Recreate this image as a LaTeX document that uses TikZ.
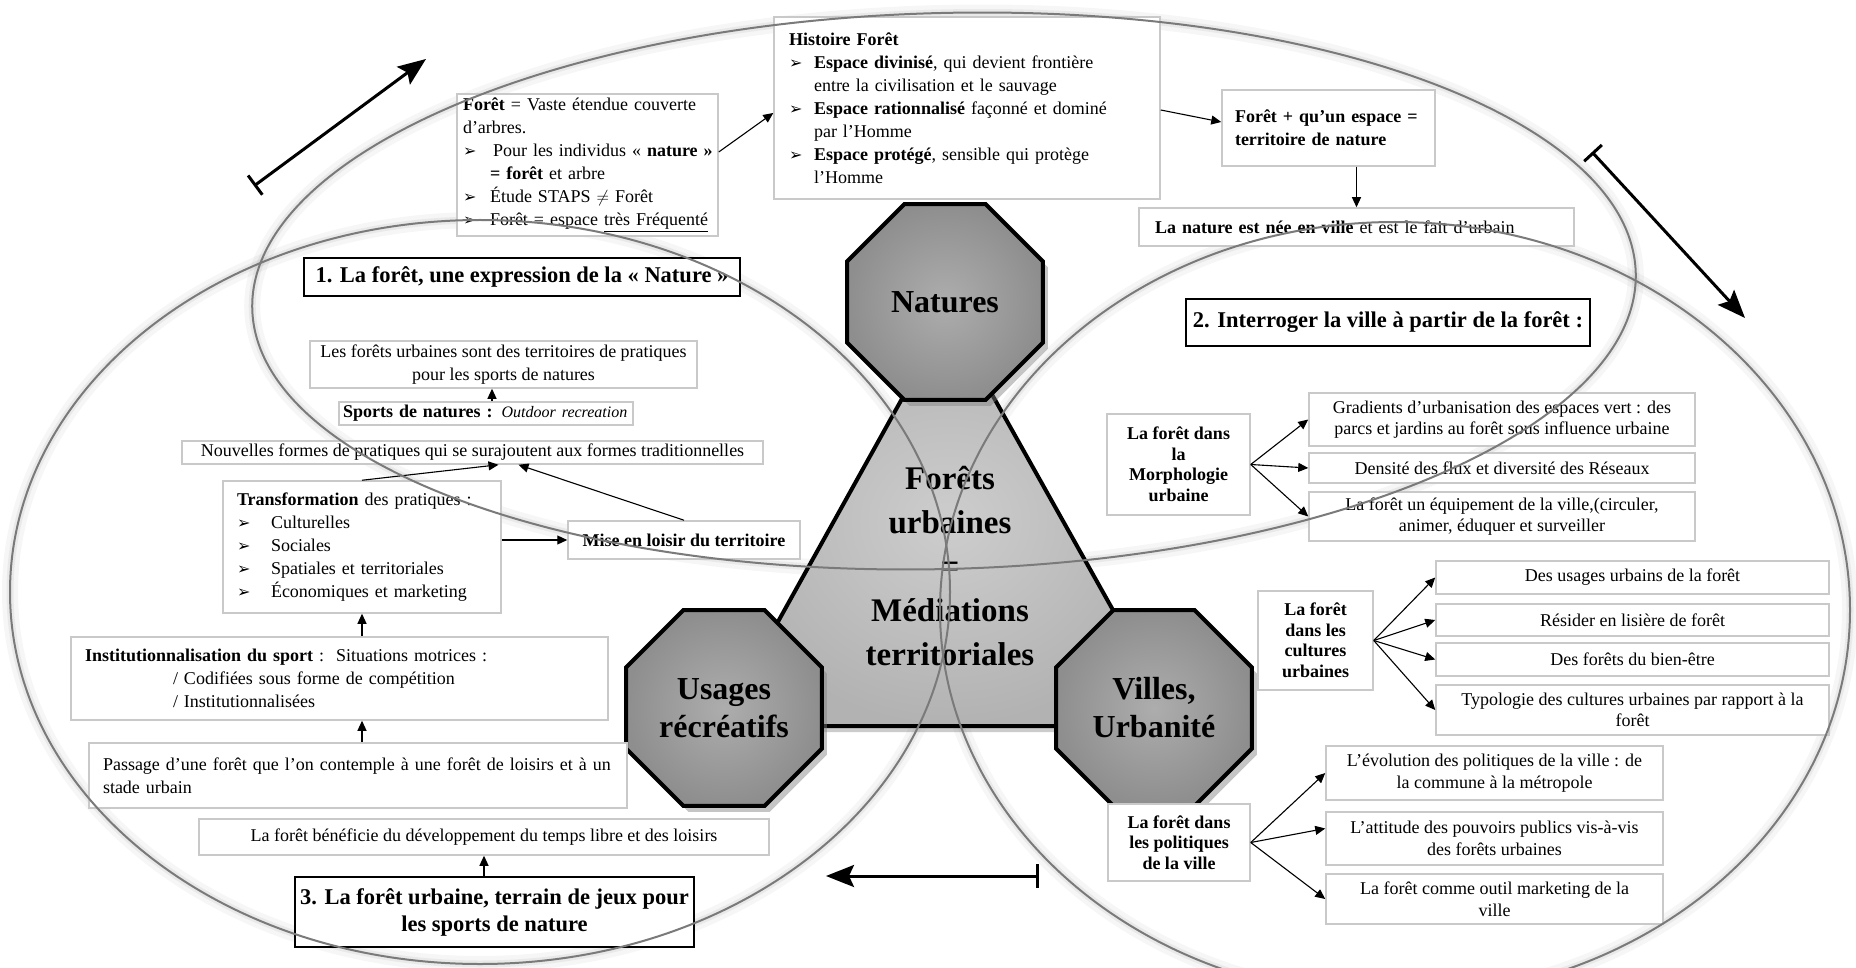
\documentclass[tikz,border=0pt]{standalone}
\usepackage{fontspec}
\setmainfont{Liberation Serif}
\newfontfamily\dejavu{DejaVu Sans}
\usetikzlibrary{arrows.meta,shapes.geometric,shadows,calc}
\definecolor{boxline}{HTML}{C9C9C9}
\definecolor{ellline}{HTML}{7A7A7A}
\definecolor{octin}{HTML}{ADADAD}
\definecolor{octout}{HTML}{8E8E8E}
\definecolor{triin}{HTML}{CDCDCD}
\definecolor{triout}{HTML}{B2B2B2}
\newcommand\fbody{\fontsize{18}{23}\selectfont}
\newcommand\fright{\fontsize{18}{21.5}\selectfont}
\newcommand\fsmallbold{\bfseries\fontsize{18}{20.5}\selectfont}
\newcommand\fsec{\bfseries\fontsize{22.5}{27}\selectfont}
\newcommand\foct{\bfseries\fontsize{32}{38}\selectfont}
\newcommand\fcent{\bfseries\fontsize{33}{44}\selectfont}
\newcommand\bul{{\dejavu\fontsize{16}{16}\selectfont ➢}}
\newcommand\bl[1]{\makebox[#1][l]{\bul}}
\tikzset{
  bx/.style={draw=boxline, line width=1.5pt, fill=white, inner ysep=0pt, font=\fbody},
  rbx/.style={bx, font=\fright, align=center, inner xsep=0pt},
  sec/.style={draw=black, line width=2.5pt, fill=white, inner sep=0pt, font=\fsec, align=center},
  hd/.style={bx, font=\fsmallbold, align=center, inner xsep=0pt},
  arr/.style={line width=1.1pt, -{Triangle[length=10pt,width=9pt]}},
  bigarr/.style={line width=3pt, {Bar[width=24pt,line width=3pt]}-{Stealth[length=28pt,width=22pt,inset=5pt]}},
  oct/.style={regular polygon, regular polygon sides=8, minimum size=212pt, inner sep=0pt,
    draw=black, line width=4pt, inner color=octin, outer color=octout, font=\foct, align=center,
    drop shadow={shadow xshift=5pt, shadow yshift=-6pt, opacity=0.45}},
  ell/.style={draw=ellline, line width=2pt},
  halo/.style={draw=black, line width=16pt, draw opacity=0.035},
  halob/.style={draw=black, line width=7pt, draw opacity=0.05},
}
\begin{document}
\begin{tikzpicture}[x=1pt,y=-1pt]
\useasboundingbox (0,0) rectangle (1856,968);
\fill[white] (0,0) rectangle (1856,968);

% ellipse halos
\foreach \st in {halo,halob}{
  \draw[\st, rotate around={1.5:(944,291)}] (944,291) ellipse [x radius=692, y radius=278];
  \draw[\st] (480,592) ellipse [x radius=470, y radius=372];
  \draw[\st] (1395,610) ellipse [x radius=455, y radius=388];
}

% central triangle
\coordinate (t1) at (948,316);
\coordinate (t2) at (720,726);
\coordinate (t3) at (1178,726);
\path[draw=black, line width=4pt, line join=miter, inner color=triin, outer color=triout,
  drop shadow={shadow xshift=5pt, shadow yshift=-6pt, opacity=0.4}] (t1) -- (t2) -- (t3) -- cycle;

% octagons
\node[oct] (natures) at (945,302) {Natures};
\node[oct] (usages) at (724,708) {Usages\\récréatifs};
\node[oct] (villes) at (1154,708) {Villes,\\Urbanité};

\node[font=\fcent, align=center] (centre) at (950,566) {Forêts\\urbaines\\=\\Médiations\\territoriales};

% top boxes
\node[bx, text width=249pt, inner xsep=6pt, minimum height=142pt, align=left] (foret) at (587.5,165)
 {\mbox{\textbf{Forêt} = Vaste étendue couverte}\\
  d’arbres.\\
  \mbox{\bl{27pt}\,Pour les individus « \textbf{nature »}}\\
  \hspace*{27pt}\textbf{= forêt} et arbre\\
  \bl{27pt}Étude STAPS $\neq$ Forêt\\
  \mbox{\bl{27pt}Forêt = espace \underline{très Fréquenté}}};

\node[bx, text width=356pt, inner xsep=15pt, minimum height=182pt, align=left] (hist) at (967,108)
 {\textbf{Histoire Forêt}\\
  \bl{25pt}\textbf{Espace divinisé}, qui devient frontière\\
  \hspace*{25pt}entre la civilisation et le sauvage\\
  \bl{25pt}\textbf{Espace rationnalisé} façonné et dominé\\
  \hspace*{25pt}par l’Homme\\
  \bl{25pt}\textbf{Espace protégé}, sensible qui protège\\
  \hspace*{25pt}l’Homme};

\node[bx, font=\fbody\bfseries, text width=187pt, inner xsep=13pt, minimum height=76pt, align=left] (plus) at (1328.5,128)
 {Forêt + qu’un espace =\\territoire de nature};

\node[bx, text width=403pt, inner xsep=16pt, minimum height=38pt, align=left] (nee) at (1356.5,227)
 {\textbf{La nature est née en ville} et est le fait d’urbain};

% section boxes
\node[sec, minimum width=436pt, minimum height=38pt] (s1) at (522,277) {1. La forêt, une expression de la « Nature »};
\node[sec, minimum width=404pt, minimum height=47pt] (s2) at (1388,322.5) {2. Interroger la ville à partir de la forêt :};
\node[sec, minimum width=399pt, minimum height=70pt] (s3) at (494.5,912) {3. La forêt urbaine, terrain de jeux pour\\les sports de nature};

% left column
\node[bx, align=center, inner xsep=0pt, minimum width=387pt, minimum height=47pt] (lesforets) at (503.5,364.5)
 {Les forêts urbaines sont des territoires de pratiques\\pour les sports de natures};
\node[bx, text width=286pt, inner xsep=4pt, minimum height=23pt, align=left] (sports) at (486,413.5)
 {\mbox{\textbf{Sports de natures :} {\fontsize{16}{20}\selectfont\itshape Outdoor recreation}}};
\node[bx, align=center, inner xsep=0pt, minimum width=581pt, minimum height=23pt] (nouv) at (472.5,452.5)
 {Nouvelles formes de pratiques qui se surajoutent aux formes traditionnelles};
\node[bx, text width=250pt, inner xsep=14pt, minimum height=132pt, align=left] (transf) at (362,547)
 {\textbf{Transformation} des pratiques :\\
  \bl{34pt}Culturelles\\
  \bl{34pt}Sociales\\
  \bl{34pt}Spatiales et territoriales\\
  \bl{34pt}Économiques et marketing};
\node[bx, font=\fbody\bfseries, align=center, inner xsep=0pt, minimum width=232pt, minimum height=38pt] (mise) at (684,540)
 {Mise en loisir du territoire};
\node[bx, text width=509pt, inner xsep=14pt, minimum height=83pt, align=left] (inst) at (339.5,678.5)
 {\textbf{Institutionnalisation du sport} :\ \ Situations motrices :\\
  \hspace*{88pt}/ Codifiées sous forme de compétition\\
  \hspace*{88pt}/ Institutionnalisées};
\node[bx, text width=510pt, inner xsep=14pt, minimum height=65pt, align=left] (pass) at (358,775.5)
 {\mbox{Passage d’une forêt que l’on contemple à une forêt de loisirs et à un}\\stade urbain};
\node[bx, align=center, inner xsep=0pt, minimum width=570pt, minimum height=36pt] (benef) at (484,837)
 {La forêt bénéficie du développement du temps libre et des loisirs};

% right column
\node[hd, minimum width=143pt, minimum height=101pt] (morph) at (1178.5,464.5) {La forêt dans\\la\\Morphologie\\urbaine};
\node[rbx, minimum width=386pt, minimum height=53pt] (grad) at (1502,419.5) {Gradients d’urbanisation des espaces vert : des\\parcs et jardins au forêt sous influence urbaine};
\node[rbx, minimum width=386pt, minimum height=30pt] (dens) at (1502,468) {Densité des flux et diversité des Réseaux};
\node[rbx, minimum width=386pt, minimum height=49pt] (equip) at (1502,516.5) {La forêt un équipement de la ville,(circuler,\\animer, éduquer et surveiller};

\node[hd, minimum width=115pt, minimum height=99pt] (cult) at (1315.5,640.5) {La forêt\\dans les\\cultures\\urbaines};
\node[rbx, minimum width=393pt, minimum height=33pt] (usag) at (1632.5,577.5) {Des usages urbains de la forêt};
\node[rbx, minimum width=393pt, minimum height=32pt] (resid) at (1632.5,620) {Résider en lisière de forêt};
\node[rbx, minimum width=393pt, minimum height=33pt] (bien) at (1632.5,659.5) {Des forêts du bien-être};
\node[rbx, minimum width=393pt, minimum height=50pt] (typo) at (1632.5,710) {Typologie des cultures urbaines par rapport à la\\forêt};

\node[hd, minimum width=142pt, minimum height=77pt] (polit) at (1179,842.5) {La forêt dans\\les politiques\\de la ville};
\node[rbx, minimum width=337pt, minimum height=54pt] (evol) at (1494.5,773) {L’évolution des politiques de la ville : de\\la commune à la métropole};
\node[rbx, minimum width=337pt, minimum height=53pt] (attit) at (1494.5,838.5) {L’attitude des pouvoirs publics vis-à-vis\\des forêts urbaines};
\node[rbx, minimum width=337pt, minimum height=50pt] (outil) at (1494.5,899) {La forêt comme outil marketing de la\\ville};

% connectors
\draw[arr] ([yshift=13pt]foret.east) -- ([yshift=-5pt]hist.west);
\draw[arr] ([yshift=-2pt]hist.east) -- ([yshift=6pt]plus.west);
\coordinate (pa) at ([xshift=28pt]plus.south);
\draw[arr] (pa) -- (pa |- nee.north);
\coordinate (sa) at ([xshift=6pt]sports.north);
\draw[arr] (sa) -- (sa |- lesforets.south);
\draw[arr] (transf.north) -- ($(nouv.south)+(26,0)$);
\draw[arr] (mise.north) -- ($(nouv.south)+(46,0)$);
\draw[arr] (transf.east |- mise.west) -- (mise.west);
\draw[arr] (inst.north -| transf.south) -- (transf.south);
\draw[arr] (pass.north -| transf.south) -- (inst.south -| transf.south);
\draw[arr] (s3.north -| benef.south) -- (benef.south);

\foreach \t in {grad,dens,equip} \draw[arr] (morph.east) -- (\t.west);
\foreach \t in {usag,resid,bien,typo} \draw[arr] (cult.east) -- (\t.west);
\draw[arr] (polit.east) -- (evol.west);
\draw[arr] (polit.east) -- ([yshift=10pt]attit.west);
\draw[arr] (polit.east) -- (outil.west);

% ellipses
\draw[ell, rotate around={1.5:(944,291)}] (944,291) ellipse [x radius=692, y radius=278];
\draw[ell] (480,592) ellipse [x radius=470, y radius=372];
\draw[ell] (1395,610) ellipse [x radius=455, y radius=388];

% big arrows
\coordinate (a1s) at (254,186); \coordinate (a1e) at (426,59);
\coordinate (a2s) at (1592,152); \coordinate (a2e) at (1745,318);
\coordinate (a3s) at (1039,876); \coordinate (a3e) at (826,876);
\draw[bigarr] (a1s) -- (a1e);
\draw[bigarr] (a2s) -- (a2e);
\draw[bigarr] (a3s) -- (a3e);
\end{tikzpicture}
\end{document}
